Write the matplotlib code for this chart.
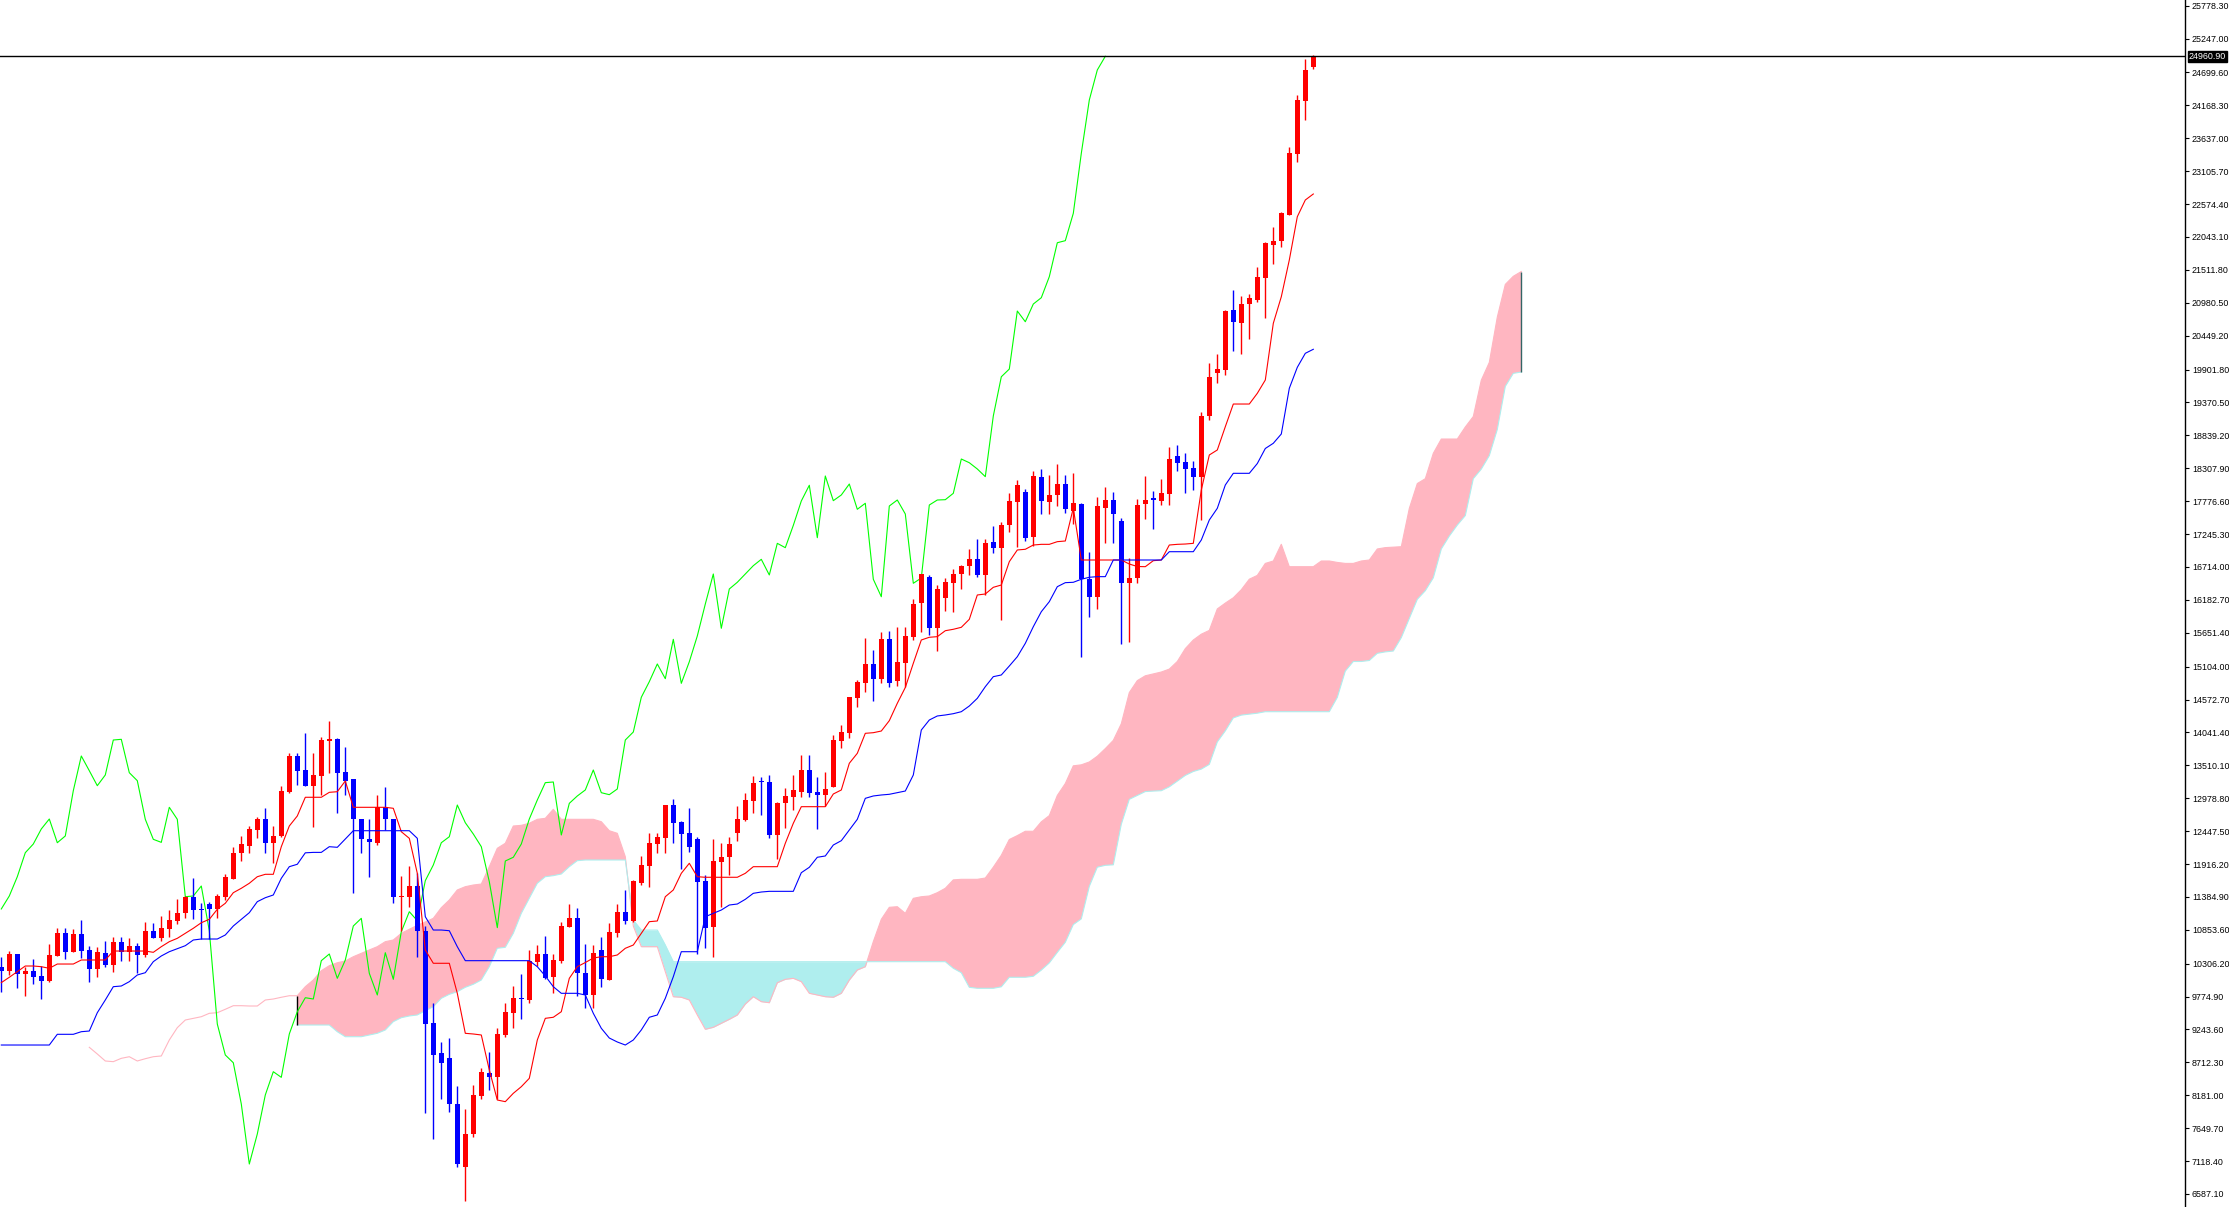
import numpy as np
import matplotlib
matplotlib.use("Agg")
import matplotlib.pyplot as plt
import matplotlib.transforms as mtransforms

plt.rcParams['font.family'] = ['Liberation Sans', 'DejaVu Sans']

# candles (bar 0 .. 164)
opens = [10248, 10193, 10463, 10140, 10193, 10108, 10032, 10435, 10807, 10500,
         10786, 10528, 10216, 10474, 10285, 10662, 10490, 10592, 10447, 10839,
         10716, 10867, 10996, 11130, 11388, 11190, 11270, 11185, 11388, 11674,
         12099, 12207, 12465, 12643, 12260, 12369, 13084, 13661, 13434, 13181,
         13343, 13908, 13935, 13398, 13284, 12643, 12320, 12260, 12832, 12643,
         11383, 11388, 11561, 10839, 9353, 8859, 8778, 8040, 7023, 7556,
         8170, 8536, 8471, 9155, 9515, 9757, 9720, 10339, 10463, 10087,
         10355, 10904, 11039, 10151, 9801, 10528, 10043, 10807, 11146, 11001,
         11605, 11884, 12239, 12331, 12869, 12600, 12412, 12320, 11642, 10904,
         11954, 12025, 12423, 12627, 12939, 13252, 13236, 12385, 12896, 13004,
         13084, 13435, 13079, 13031, 13160, 13908, 14037, 14592, 14845, 15147,
         14909, 15545, 14877, 15167, 15587, 16126, 16556, 15723, 16217, 16460,
         16595, 16734, 16837, 16584, 17111, 17025, 17385, 17768, 17924, 17203,
         18172, 17768, 17876, 18053, 17622, 17730, 16515, 16233, 17671, 17795,
         17461, 16450, 16530, 17725, 17811, 17784, 17892, 18506, 18404, 18307,
         18172, 19152, 19850, 19894, 20863, 20658, 20960, 21025, 21386, 21913,
         21983, 22398, 23383, 24244, 24793]
highs = [10410, 10516, 10470, 10248, 10382, 10269, 10624, 10878, 10878, 10862,
         11012, 10592, 10571, 10678, 10742, 10742, 10716, 10636, 10985, 10968,
         11077, 11173, 11351, 11400, 11685, 11291, 11308, 11432, 11755, 12186,
         12369, 12530, 12671, 12816, 12530, 13176, 13704, 13714, 14027, 13714,
         13963, 14226, 13946, 13801, 13290, 12650, 12643, 13031, 13155, 12650,
         11723, 11884, 11766, 10915, 9667, 9047, 9101, 8331, 7955, 8347,
         8617, 8880, 9263, 9667, 9946, 10140, 10528, 10608, 10754, 10463,
         10985, 11270, 11201, 10624, 10608, 10732, 10968, 11270, 11496, 11650,
         12046, 12423, 12423, 12875, 12961, 12605, 12816, 12347, 11739, 12315,
         12251, 12357, 12853, 13068, 13338, 13327, 13354, 12912, 13139, 13354,
         13677, 13677, 13327, 13397, 14000, 14161, 14619, 14888, 15561, 15373,
         15658, 15679, 15749, 15749, 16191, 16605, 16584, 16423, 16530, 16676,
         16745, 16999, 17166, 17166, 17374, 17444, 17913, 18118, 17967, 18268,
         18290, 18199, 18376, 18199, 18236, 17751, 16956, 17848, 17999, 17929,
         17500, 16853, 17806, 18183, 17940, 18134, 18659, 18688, 18560, 18431,
         19221, 20011, 20152, 20863, 21187, 21090, 21122, 21563, 21955, 22209,
         22452, 23501, 24336, 24912, 24975]
lows = [9854, 10124, 9919, 9785, 9978, 9731, 10016, 10430, 10377, 10495,
        10393, 10016, 10087, 10258, 10177, 10355, 10355, 10151, 10410, 10720,
        10678, 10742, 10943, 11039, 11028, 10700, 10700, 11049, 11335, 11669,
        11965, 12099, 12341, 12099, 11937, 12347, 13058, 13192, 13175, 12519,
        13031, 13381, 12745, 13031, 11443, 12089, 11702, 12223, 12465, 11291,
        10839, 11227, 10419, 7900, 7470, 8116, 7916, 7028, 6479, 7502,
        8116, 8267, 8116, 9127, 9263, 9408, 9676, 10269, 10054, 9838,
        10313, 10900, 9785, 9586, 9586, 9935, 10040, 10732, 10946, 10985,
        11577, 11540, 12099, 12099, 12260, 11830, 12115, 10463, 10555, 10410,
        11227, 11739, 12293, 12616, 12745, 12708, 12331, 11993, 12498, 12789,
        12994, 13004, 12482, 12853, 13155, 13789, 13946, 14447, 14700, 14554,
        14834, 14770, 14791, 14775, 15534, 15668, 15615, 15357, 16007, 15991,
        16358, 16589, 16556, 16261, 16934, 15857, 17279, 17037, 17137, 17048,
        17564, 17564, 17698, 17590, 17407, 15264, 15910, 16030, 17107, 17107,
        15465, 15507, 16460, 17488, 17327, 17714, 17714, 18257, 17913, 17957,
        17472, 19087, 19690, 19814, 20208, 20160, 20398, 20998, 20729, 21606,
        21886, 22395, 23253, 23924, 24751]
closes = [10193, 10463, 10140, 10193, 10096, 10032, 10447, 10807, 10500, 10786,
          10516, 10216, 10490, 10285, 10662, 10490, 10592, 10447, 10839, 10726,
          10878, 11012, 11130, 11388, 11173, 11168, 11190, 11400, 11711, 12099,
          12239, 12482, 12643, 12260, 12369, 13100, 13661, 13423, 13181, 13354,
          13919, 13930, 13391, 13262, 12638, 12315, 12266, 12832, 12638, 11388,
          11400, 11561, 10839, 9332, 8832, 8707, 8040, 7071, 7556, 8186,
          8562, 8471, 9171, 9531, 9757, 9736, 10355, 10463, 10070, 10366,
          10915, 11039, 10151, 9801, 10484, 10054, 10823, 11146, 11001, 11647,
          11900, 12260, 12357, 12869, 12583, 12401, 12196, 11631, 10888, 11965,
          12025, 12239, 12643, 12950, 13230, 13241, 12385, 12896, 13015, 13112,
          13435, 13068, 13036, 13128, 13919, 14048, 14609, 14861, 15147, 14909,
          15545, 14834, 15183, 15599, 16115, 16600, 15723, 16358, 16466, 16600,
          16734, 16837, 16584, 17095, 17025, 17385, 17779, 18033, 17186, 18183,
          17784, 17876, 18053, 17645, 17742, 16515, 16233, 17698, 17795, 17569,
          16450, 16535, 17714, 17795, 17800, 17903, 18457, 18397, 18296, 18172,
          19152, 19785, 19910, 20847, 20674, 20960, 21062, 21402, 21950, 21983,
          22425, 23394, 24255, 24740, 24960.9]

# ichimoku lines
tenkan = [10000, 10087, 10177, 10269, 10269, 10258, 10232, 10301, 10301, 10301,
          10366, 10366, 10366, 10366, 10511, 10511, 10511, 10511, 10511, 10490,
          10581, 10662, 10716, 10797, 10878, 10968, 11023, 11185, 11282, 11453,
          11524, 11605, 11711, 11750, 11750, 12196, 12530, 12692, 12994, 12994,
          12994, 13074, 13084, 13257, 12832, 12832, 12832, 12832, 12832, 12816,
          12438, 12331, 11766, 10528, 10313, 10313, 10313, 9828, 9182, 9171,
          9155, 8590, 8105, 8078, 8213, 8320, 8455, 9074, 9424, 9441,
          9531, 10070, 10258, 10325, 10398, 10419, 10419, 10447, 10555, 10608,
          10797, 10985, 10996, 11388, 11497, 11766, 11928, 11711, 11702, 11702,
          11702, 11702, 11702, 11766, 11873, 11873, 11873, 11873, 12251, 12574,
          12842, 12842, 12842, 12842, 13047, 13112, 13543, 13704, 14027, 14037,
          14064, 14231, 14512, 14767, 15158, 15534, 15578, 15588, 15684, 15707,
          15739, 15868, 16261, 16277, 16385, 16422, 16799, 16988, 16999, 17068,
          17079, 17079, 17122, 17133, 17666, 16826, 16826, 16826, 16826, 16826,
          16826, 16761, 16721, 16718, 16815, 16826, 17068, 17079, 17084, 17095,
          17957, 18522, 18603, 18979, 19345, 19345, 19345, 19518, 19733, 20649,
          21078, 21671, 22370, 22640, 22737]
kijun = [8993, 8993, 8993, 8993, 8993, 8993, 8993, 9166, 9166, 9166,
         9208, 9219, 9515, 9720, 9935, 9946, 10016, 10124, 10161, 10339,
         10431, 10500, 10548, 10597, 10689, 10705, 10705, 10705, 10770, 10915,
         11023, 11130, 11308, 11372, 11416, 11685, 11873, 11912, 12097, 12104,
         12104, 12196, 12186, 12320, 12454, 12454, 12454, 12454, 12454, 12454,
         12454, 12454, 12331, 11065, 10850, 10850, 10839, 10581, 10355, 10355,
         10355, 10355, 10355, 10355, 10355, 10355, 10355, 10258, 10108, 9935,
         9828, 9828, 9828, 9801, 9505, 9263, 9106, 9042, 8993, 9074,
         9236, 9441, 9478, 9747, 10096, 10500, 10500, 10500, 11065, 11120,
         11173, 11254, 11270, 11346, 11443, 11464, 11475, 11475, 11475, 11475,
         11776, 11863, 12025, 12046, 12223, 12293, 12465, 12638, 12977, 13015,
         13031, 13042, 13068, 13095, 13354, 14080, 14242, 14307, 14323, 14344,
         14376, 14468, 14592, 14780, 14942, 14969, 15114, 15264, 15480, 15749,
         15991, 16153, 16395, 16460, 16466, 16515, 16547, 16557, 16557, 16826,
         16826, 16826, 16826, 16826, 16826, 16826, 16960, 16960, 16960, 16960,
         17149, 17472, 17661, 18037, 18226, 18226, 18226, 18384, 18627, 18711,
         18861, 19599, 19938, 20164, 20229]

# senkou span A (bar 11 .. 190) and span B (bar 37 .. 190)
span_a = [8956, 8848, 8735, 8724, 8778, 8804, 8735, 8772, 8804, 8816,
          9074, 9273, 9397, 9424, 9450, 9505, 9515, 9570, 9628, 9628,
          9623, 9623, 9720, 9736, 9764, 9789, 9789, 9935, 10043, 10193,
          10274, 10322, 10350, 10419, 10474, 10528, 10581, 10662, 10689, 10797,
          10862, 10926, 10980, 11039, 11211, 11335, 11497, 11550, 11577, 11593,
          11873, 12170, 12251, 12530, 12541, 12574, 12638, 12654, 12800, 12638,
          12638, 12638, 12638, 12638, 12600, 12454, 12412, 12035, 10915, 10581,
          10581, 10581, 10177, 9773, 9764, 9720, 9478, 9247, 9279, 9344,
          9408, 9478, 9655, 9773, 9693, 9676, 9999, 10054, 10070, 10016,
          9828, 9801, 9773, 9764, 9828, 10043, 10205, 10258, 10662, 11023,
          11217, 11227, 11120, 11362, 11388, 11400, 11453, 11524, 11660, 11669,
          11669, 11669, 11690, 11865, 12057, 12312, 12375, 12445, 12445, 12598,
          12698, 13023, 13216, 13502, 13518, 13564, 13657, 13780, 13913, 14182,
          14685, 14878, 14956, 14986, 15017, 15064, 15187, 15395, 15534, 15628,
          15689, 16036, 16130, 16216, 16346, 16516, 16577, 16771, 16810, 17080,
          16718, 16718, 16718, 16718, 16810, 16810, 16787, 16771, 16771, 16810,
          16826, 17004, 17026, 17034, 17041, 17659, 18061, 18139, 18549, 18780,
          18780, 18780, 18974, 19144, 19731, 20017, 20750, 21277, 21408, 21485]
span_b = [9316, 9316, 9316, 9316, 9316, 9208, 9127, 9127, 9127, 9155,
          9182, 9236, 9370, 9434, 9462, 9478, 9547, 9612, 9747, 9812,
          9854, 9925, 9974, 10043, 10258, 10555, 10571, 10797, 11120, 11362,
          11605, 11711, 11728, 11755, 11873, 11970, 11981, 11981, 11981, 11981,
          11981, 11981, 11012, 10850, 10850, 10850, 10608, 10339, 10339, 10339,
          10339, 10339, 10339, 10339, 10339, 10339, 10339, 10339, 10339, 10339,
          10339, 10339, 10339, 10339, 10339, 10339, 10339, 10339, 10339, 10339,
          10339, 10339, 10339, 10339, 10339, 10339, 10339, 10339, 10339, 10339,
          10339, 10339, 10232, 10161, 9925, 9909, 9909, 9909, 9933, 10087,
          10087, 10087, 10103, 10203, 10319, 10489, 10652, 10938, 11030, 11555,
          11865, 11895, 11903, 12559, 12961, 13023, 13086, 13094, 13100, 13163,
          13255, 13347, 13410, 13449, 13525, 13888, 14066, 14276, 14321, 14337,
          14352, 14376, 14376, 14376, 14376, 14376, 14376, 14376, 14376, 14376,
          14607, 15032, 15187, 15187, 15203, 15319, 15342, 15356, 15573, 15883,
          16191, 16330, 16538, 17004, 17212, 17390, 17543, 18139, 18294, 18511,
          18935, 19630, 19840, 19862]

yticks = [25778.30, 25247.00, 24699.60, 24168.30, 23637.00, 23105.70, 22574.40,
          22043.10, 21511.80, 20980.50, 20449.20, 19901.80, 19370.50, 18839.20,
          18307.90, 17776.60, 17245.30, 16714.00, 16182.70, 15651.40, 15104.00,
          14572.70, 14041.40, 13510.10, 12978.80, 12447.50, 11916.20, 11384.90,
          10853.60, 10306.20, 9774.90, 9243.60, 8712.30, 8181.00, 7649.70,
          7118.40, 6587.10]
last_price = 24960.90

o = np.array(opens, float)
h = np.array(highs, float)
l = np.array(lows, float)
c = np.array(closes, float)
x = np.arange(len(c))

xa = np.arange(11, 11 + len(span_a))
xb = np.arange(37, 37 + len(span_b))
a_cloud = np.array(span_a[26:], float)
b_cloud = np.array(span_b, float)

fig = plt.figure(figsize=(22.29, 12.07), dpi=100)
ax = fig.add_axes([0, 0, 2185 / 2229, 1])

# cloud
ax.fill_between(xb, a_cloud, b_cloud, where=a_cloud >= b_cloud, interpolate=True,
                color='#FFB6C1', lw=0, zorder=1)
ax.fill_between(xb, a_cloud, b_cloud, where=a_cloud < b_cloud, interpolate=True,
                color='#AFEEEE', lw=0, zorder=1)
ax.plot(xa, span_a, color='#FFB6C1', lw=0.8, zorder=2)
ax.plot(xb, span_b, color='#AFEEEE', lw=0.8, zorder=2)
ax.vlines(xb[0], b_cloud[0], a_cloud[0], color='black', lw=1, zorder=2)
ax.vlines(xb[-1], b_cloud[-1], a_cloud[-1], color='#336666', lw=1, zorder=2)

# chikou = close shifted back 26 bars
ax.plot(x[:len(c) - 26], c[26:], color='#00FF00', lw=0.8, zorder=3)

# candles
col = np.where(c >= o, '#FF0000', '#0000FF')
ax.vlines(x, l, h, colors=col, lw=1, zorder=4)
body_low = np.minimum(o, c)
body_h = np.maximum(np.abs(c - o), 20)
ax.bar(x, body_h, bottom=body_low, width=0.62, color=col, lw=0, zorder=4)

ax.plot(x, tenkan, color='#FF0000', lw=0.8, zorder=5)
ax.plot(x, kijun, color='#0000FF', lw=0.8, zorder=5)

# current price line and tag
ax.axhline(last_price, color='black', lw=1, zorder=6)
trans = mtransforms.blended_transform_factory(ax.transAxes, ax.transData)
ax.text(1.0018, last_price, '%.2f' % last_price, transform=trans, ha='left', va='center',
        fontsize=6.4, color='white', clip_on=False,
        bbox=dict(facecolor='black', edgecolor='black', pad=0.8))

ax.set_xlim(-0.1625, 272.96)
ax.set_ylim(25870 - 16.15 * 1207, 25870)

ax.yaxis.tick_right()
ax.set_yticks(yticks)
ax.set_yticklabels(['%.2f' % v for v in yticks])
ax.tick_params(axis='y', direction='out', length=3, width=0.8, pad=2,
               labelsize=6.4, colors='black')
ax.set_xticks([])
for s in ['top', 'left', 'bottom']:
    ax.spines[s].set_visible(False)
ax.spines['right'].set_linewidth(1)

fig.savefig('out.png', dpi=100, facecolor='white')
